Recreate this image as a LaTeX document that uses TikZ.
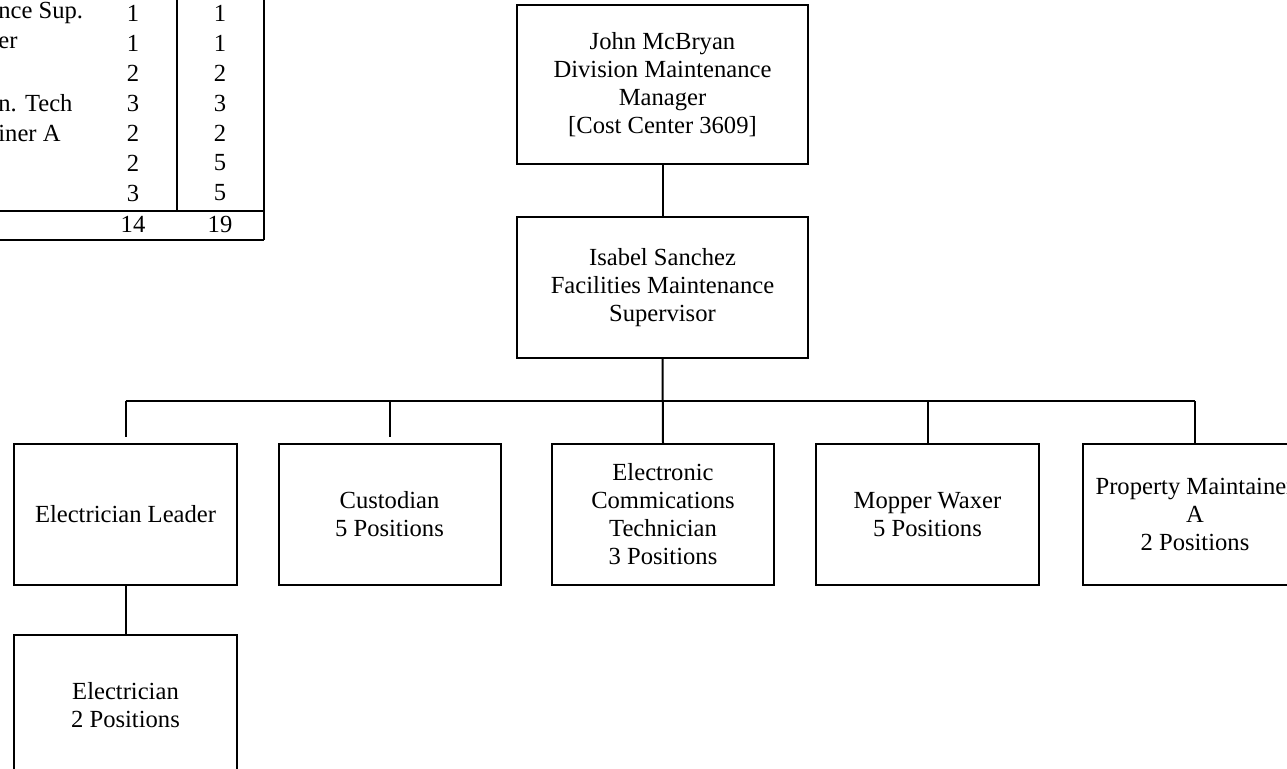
\documentclass[tikz,border=0pt]{standalone}
\usepackage{fontspec}
\setmainfont{Liberation Serif}
\begin{document}
\begin{tikzpicture}[x=0.5pt,y=-0.5pt,
  every node/.style={font=\fontsize{12.3}{14}\selectfont},
  orgbox/.style={draw,line width=1pt,align=center,inner sep=0pt,minimum height=70.5pt},
  cell/.style={inner sep=0pt,anchor=center},
  rule/.style={line width=1pt}]
\useasboundingbox (0,0) rectangle (1287,768);
\clip (0,0) rectangle (1287,768);

% ---- table (cropped at left / top) ----
\draw[rule] (177,-5) -- (177,211);
\draw[rule] (0,211) -- (264,211);
\draw[rule] (264,-5) -- (264,240);
\draw[rule] (0,240) -- (264,240);
\node[cell,anchor=west] (t1) at (-2,13) {nce Sup.};
\node[cell,anchor=west] (t2) at (-2,43) {er};
\node[cell,anchor=west] (t4) at (-2,103) {n. Tech};
\node[cell,anchor=west] (t5) at (-2,133) {iner A};
\foreach \y/\a/\b [count=\i] in {13/1/1,43/1/1,73/2/2,103/3/3,133/2/2,163/2/5,193/3/5}{
  \node[cell] (a\i) at (133,\y) {\a};
  \node[cell] (b\i) at (220,\y) {\b};
}
\node[cell] (sa) at (133,224) {14};
\node[cell] (sb) at (220,224) {19};

% ---- org chart ----
\node[orgbox,minimum width=145.5pt,minimum height=79.5pt] (mgr) at (662.5,84.5)
  {John McBryan\\Division Maintenance\\Manager\\{[}Cost Center 3609{]}};
\node[orgbox,minimum width=145.5pt] (sup) at (662.5,287.5)
  {Isabel Sanchez\\Facilities Maintenance\\Supervisor};
\node[orgbox,minimum width=111.5pt] (lead) at (125.5,514.5) {Electrician Leader};
\node[orgbox,minimum width=111pt] (cust) at (389.5,514.5) {Custodian\\5 Positions};
\node[orgbox,minimum width=111pt] (etech) at (663,514.5)
  {Electronic\\Commications\\Technician\\3 Positions};
\node[orgbox,minimum width=111.5pt] (mop) at (927.5,514.5) {Mopper Waxer\\5 Positions};
\node[orgbox,minimum width=112pt] (prop) at (1195,514.5) {Property Maintainer\\A\\2 Positions};
\node[orgbox,minimum width=111.5pt] (elec) at (125.5,705.5) {Electrician\\2 Positions};

\coordinate (bus) at (663,401);
\draw[rule] (mgr.south) -- (sup.north);
\draw[rule] (sup.south) -- (etech.north);
\draw[rule] (bus -| lead.north) -- (bus -| prop.north);
\draw[rule,shorten >=3pt] (bus -| lead.north) -- (lead.north);
\draw[rule,shorten >=3pt] (bus -| cust.north) -- (cust.north);
\draw[rule] (bus -| mop.north) -- (mop.north);
\draw[rule] (bus -| prop.north) -- (prop.north);
\draw[rule] (lead.south) -- (elec.north);
\end{tikzpicture}
\end{document}
